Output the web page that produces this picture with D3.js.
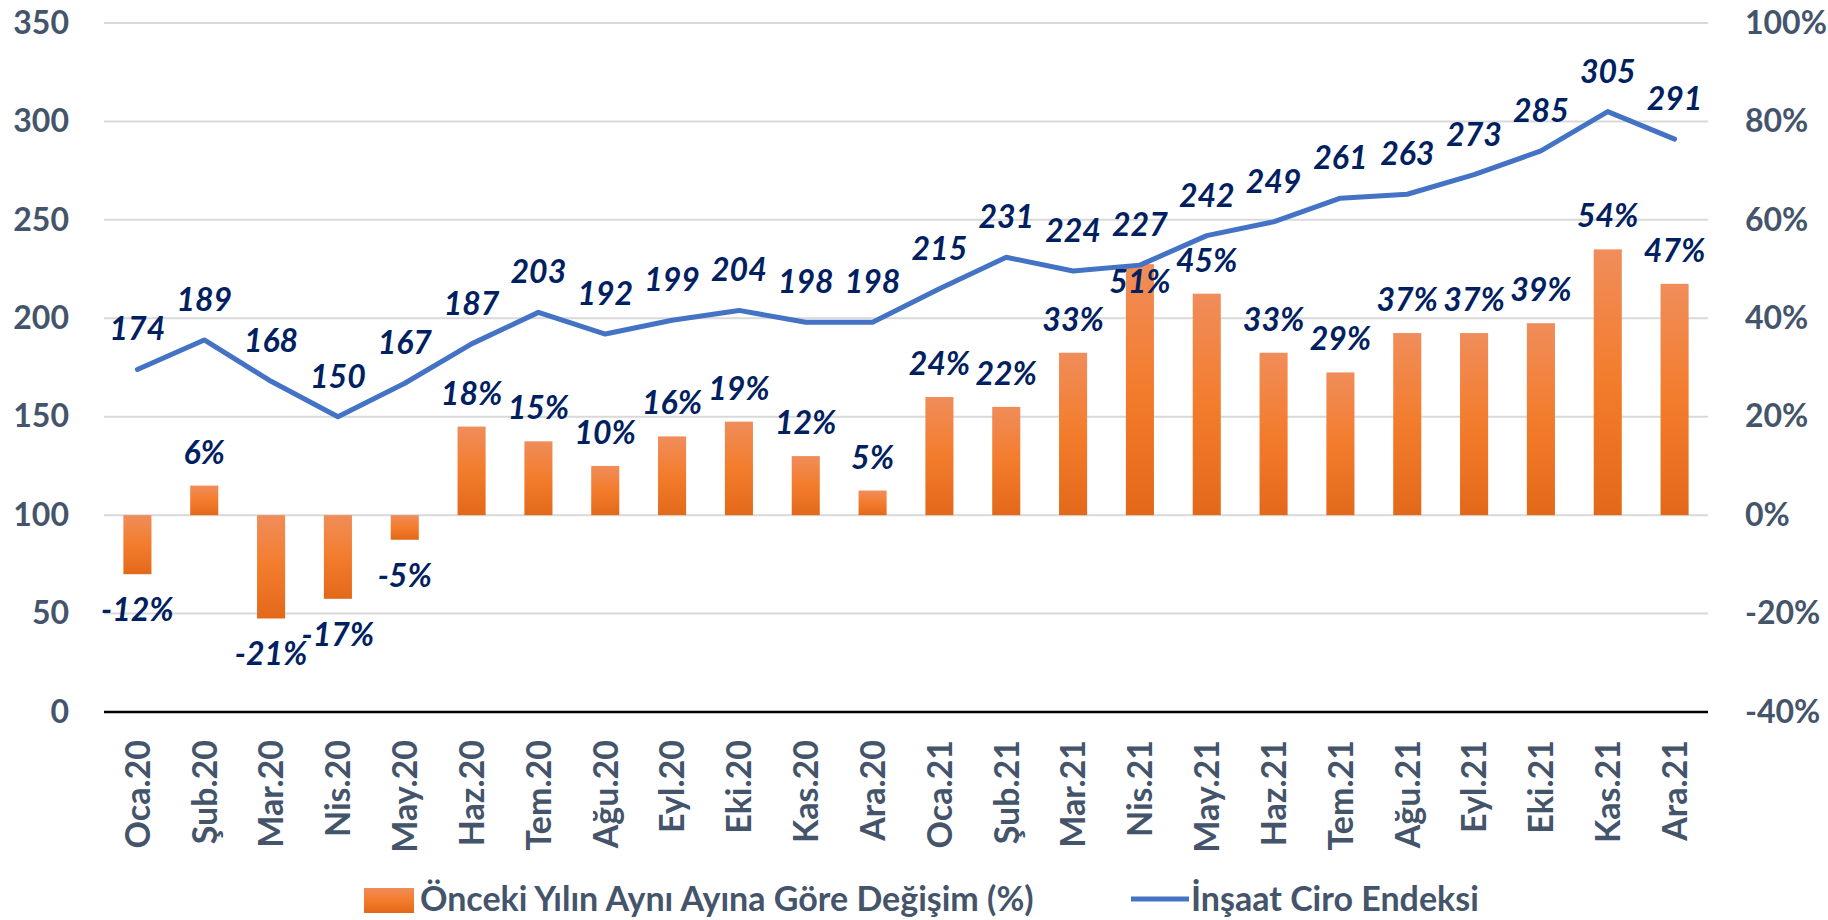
<!DOCTYPE html>
<html>
<head>
<meta charset="utf-8">
<script src="https://cdn.jsdelivr.net/npm/d3@7"></script>
<style>
  body { margin: 0; background: #fff; }
  text { font-family: Lato, "Open Sans", sans-serif; }
</style>
</head>
<body>
<div id="chart"></div>
<script>
// Months on the x axis
var months = ["Oca.20", "Şub.20", "Mar.20", "Nis.20", "May.20", "Haz.20", "Tem.20", "Ağu.20", "Eyl.20", "Eki.20", "Kas.20", "Ara.20",
              "Oca.21", "Şub.21", "Mar.21", "Nis.21", "May.21", "Haz.21", "Tem.21", "Ağu.21", "Eyl.21", "Eki.21", "Kas.21", "Ara.21"];
// İnşaat Ciro Endeksi (left axis)
var indexValues = [174, 189, 168, 150, 167, 187, 203, 192, 199, 204, 198, 198, 215, 231, 224, 227, 242, 249, 261, 263, 273, 285, 305, 291];
// Önceki Yılın Aynı Ayına Göre Değişim (%) (right axis)
var changeValues = [-12, 6, -21, -17, -5, 18, 15, 10, 16, 19, 12, 5, 24, 22, 33, 51, 45, 33, 29, 37, 37, 39, 54, 47];
var leftTicks = [0, 50, 100, 150, 200, 250, 300, 350];
var rightTicks = [-40, -20, 0, 20, 40, 60, 80, 100];
var legendLabels = ["Önceki Yılın Aynı Ayına Göre Değişim (%)", "İnşaat Ciro Endeksi"];

var width = 1828, height = 920;
var plotLeft = 104, plotRight = 1708, plotTop = 23, plotBottom = 712;
var axisColor = "#44546A", labelColor = "#002060", lineColor = "#4472C4";

var svg = d3.select("#chart").append("svg").attr("width", width).attr("height", height);

// Gradient for the bars
var grad = svg.append("defs").append("linearGradient")
    .attr("id", "barGrad").attr("x1", 0).attr("y1", 0).attr("x2", 0).attr("y2", 1);
grad.append("stop").attr("offset", "0%").attr("stop-color", "#F08D5A");
grad.append("stop").attr("offset", "50%").attr("stop-color", "#F37C2C");
grad.append("stop").attr("offset", "100%").attr("stop-color", "#E3691A");

var x = d3.scaleBand().domain(months).range([plotLeft, plotRight]).paddingInner(0.58).paddingOuter(0.29);
var yL = d3.scaleLinear().domain([0, 350]).range([plotBottom, plotTop]);
var yR = d3.scaleLinear().domain([-40, 100]).range([plotBottom, plotTop]);

// Gridlines
svg.append("g").selectAll("line")
    .data(leftTicks.slice(1))
    .enter().append("line")
    .attr("x1", plotLeft).attr("x2", plotRight)
    .attr("y1", function(d) { return yL(d); })
    .attr("y2", function(d) { return yL(d); })
    .style("stroke", "#D9D9D9").style("stroke-width", 2);

// Bars
svg.append("g").selectAll("rect")
    .data(changeValues)
    .enter().append("rect")
    .attr("x", function(d, i) { return x(months[i]); })
    .attr("width", x.bandwidth())
    .attr("y", function(d) { return yR(Math.max(d, 0)); })
    .attr("height", function(d) { return Math.abs(yR(d) - yR(0)); })
    .attr("fill", "url(#barGrad)");

// Bottom axis line
svg.append("line")
    .attr("x1", plotLeft).attr("x2", plotRight).attr("y1", plotBottom).attr("y2", plotBottom)
    .style("stroke", "#000").style("stroke-width", 2.5);

// Index line
var line = d3.line()
    .x(function(d, i) { return x(months[i]) + x.bandwidth() / 2; })
    .y(function(d) { return yL(d); });
svg.append("path")
    .datum(indexValues)
    .attr("d", line)
    .attr("fill", "none")
    .style("stroke", lineColor).style("stroke-width", 5)
    .style("stroke-linejoin", "round").style("stroke-linecap", "round");

// Left axis
var axL = svg.append("g").attr("transform", "translate(" + plotLeft + ",0)")
    .call(d3.axisLeft(yL).tickValues(leftTicks).tickSize(0).tickPadding(35));
// Right axis
var axR = svg.append("g").attr("transform", "translate(" + plotRight + ",0)")
    .call(d3.axisRight(yR).tickValues(rightTicks).tickSize(0).tickPadding(37)
        .tickFormat(function(d) { return d + "%"; }));
[axL, axR].forEach(function(ax) {
    ax.select(".domain").remove();
    ax.selectAll("text")
        .style("font-family", "Lato, sans-serif")
        .style("font-size", "32px").style("font-weight", "bold")
        .attr("fill", axisColor);
});

// X axis labels (rotated)
svg.append("g").selectAll("text")
    .data(months)
    .enter().append("text")
    .attr("transform", function(d) {
        return "translate(" + (x(d) + x.bandwidth() / 2) + "," + (plotBottom + 28) + ") rotate(-90)";
    })
    .attr("dy", "0.36em")
    .attr("text-anchor", "end")
    .style("font-size", "34px").style("font-weight", "bold")
    .attr("fill", axisColor)
    .text(function(d) { return d; });

// Line label baseline for month i
function lineLabelY(i) { return yL(indexValues[i]) - 29; }

// Bar value labels (moved under the line when they would hit the line label)
svg.append("g").selectAll("text")
    .data(changeValues)
    .enter().append("text")
    .attr("x", function(d, i) { return x(months[i]) + x.bandwidth() / 2; })
    .attr("y", function(d, i) {
        if (d < 0) return yR(d) + 47;
        var y = yR(d) - 22;
        if (Math.abs(y - lineLabelY(i)) < 32) y = yL(indexValues[i]) + 28;
        return y;
    })
    .attr("text-anchor", "middle")
    .style("font-size", "32px").style("font-weight", "bold").style("font-style", "italic")
    .attr("fill", labelColor)
    .text(function(d) { return d + "%"; });

// Line value labels
svg.append("g").selectAll("text")
    .data(indexValues)
    .enter().append("text")
    .attr("x", function(d, i) { return x(months[i]) + x.bandwidth() / 2; })
    .attr("y", function(d, i) { return lineLabelY(i); })
    .attr("text-anchor", "middle")
    .style("font-size", "32px").style("font-weight", "bold").style("font-style", "italic")
    .attr("fill", labelColor)
    .text(function(d) { return d; });

// Legend
var legend = svg.append("g");
legend.append("rect")
    .attr("x", 364).attr("y", 888).attr("width", 50).attr("height", 25)
    .attr("fill", "url(#barGrad)");
legend.append("text")
    .attr("x", 420).attr("y", 899).attr("dy", "0.36em")
    .style("font-size", "34px").style("font-weight", "bold")
    .attr("fill", axisColor)
    .text(legendLabels[0]);
legend.append("line")
    .attr("x1", 1131).attr("x2", 1189).attr("y1", 899).attr("y2", 899)
    .style("stroke", lineColor).style("stroke-width", 5);
legend.append("text")
    .attr("x", 1191).attr("y", 899).attr("dy", "0.36em")
    .style("font-size", "34px").style("font-weight", "bold")
    .attr("fill", axisColor)
    .text(legendLabels[1]);
</script>
</body>
</html>
